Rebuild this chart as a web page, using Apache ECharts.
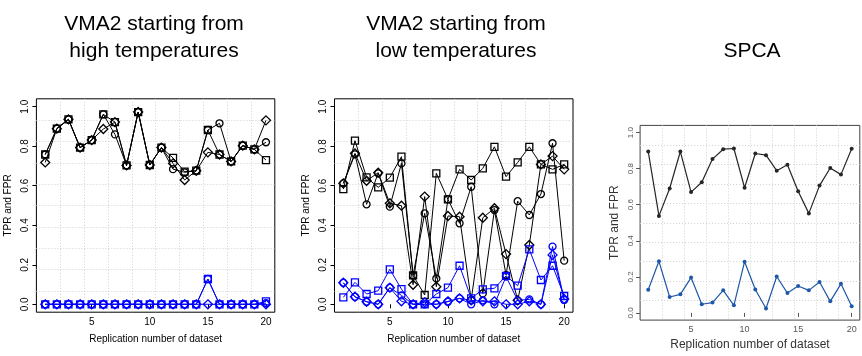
<!DOCTYPE html>
<html>
<head>
<meta charset="utf-8">
<script src="https://cdn.jsdelivr.net/npm/echarts@6/dist/echarts.min.js"></script>
<style>
  html, body { margin: 0; padding: 0; background: #fff; }
  #chart { width: 862px; height: 356px; }
</style>
</head>
<body>
<div id="chart"></div>
<script>
// replication index shared by all panels
const reps = [1, 2, 3, 4, 5, 6, 7, 8, 9, 10, 11, 12, 13, 14, 15, 16, 17, 18, 19, 20]
const xTicks = [5, 10, 15, 20]
const yTicks = [0, 0.2, 0.4, 0.6, 0.8, 1.0]

// VMA2 from high temperatures: TPR (black) and FPR (blue), one run per marker
const highTprSquare = [0.758, 0.889, 0.936, 0.793, 0.831, 0.961, 0.922, 0.703, 0.973, 0.705, 0.793, 0.741, 0.671, 0.676, 0.882, 0.758, 0.723, 0.803, 0.784, 0.730]
const highTprCircle = [0.758, 0.889, 0.936, 0.793, 0.831, 0.961, 0.860, 0.703, 0.973, 0.705, 0.793, 0.684, 0.668, 0.676, 0.882, 0.916, 0.723, 0.803, 0.784, 0.820]
const highTprDiamond = [0.718, 0.889, 0.936, 0.793, 0.831, 0.887, 0.922, 0.703, 0.973, 0.705, 0.793, 0.713, 0.629, 0.676, 0.769, 0.758, 0.723, 0.803, 0.784, 0.931]
const highFprSquare = [0, 0, 0, 0, 0, 0, 0, 0, 0, 0, 0, 0, 0, 0, 0.128, 0, 0, 0, 0, 0.015]
const highFprCircle = [0, 0, 0, 0, 0, 0, 0, 0, 0, 0, 0, 0, 0, 0, 0.128, 0, 0, 0, 0, 0.006]
const highFprDiamond = [0, 0, 0, 0, 0, 0, 0, 0, 0, 0, 0, 0, 0, 0, 0, 0, 0, 0, 0, 0]

// VMA2 from low temperatures
const lowTprSquare = [0.583, 0.828, 0.642, 0.592, 0.641, 0.747, 0.146, 0.047, 0.663, 0.531, 0.683, 0.629, 0.688, 0.797, 0.646, 0.718, 0.797, 0.708, 0.683, 0.708]
const lowTprCircle = [0.612, 0.759, 0.506, 0.663, 0.494, 0.713, 0.146, 0.460, 0.131, 0.531, 0.410, 0.595, 0.055, 0.477, 0.148, 0.522, 0.452, 0.558, 0.815, 0.221]
const lowTprDiamond = [0.612, 0.764, 0.625, 0.666, 0.511, 0.499, 0.099, 0.545, 0.089, 0.447, 0.443, 0.022, 0.438, 0.486, 0.254, 0.020, 0.300, 0.708, 0.750, 0.683]
const lowFprSquare = [0.035, 0.111, 0.052, 0.069, 0.177, 0.077, 0.0, 0.0, 0.052, 0.084, 0.195, 0.030, 0.076, 0.081, 0.144, 0.094, 0.278, 0.123, 0.195, 0.042]
const lowFprCircle = [0.109, 0.038, 0.013, 0.0, 0.084, 0.045, 0.0, 0.0, 0.0, 0.013, 0.030, 0.0, 0.020, 0.0, 0.140, 0.020, 0.025, 0.0, 0.292, 0.022]
const lowFprDiamond = [0.109, 0.038, 0.013, 0.0, 0.084, 0.015, 0.0, 0.010, 0.0, 0.015, 0.030, 0.020, 0.015, 0.015, 0.0, 0.0, 0.015, 0.0, 0.250, 0.027]

// SPCA
const spcaTpr = [0.895, 0.538, 0.690, 0.895, 0.670, 0.725, 0.853, 0.908, 0.912, 0.694, 0.884, 0.875, 0.789, 0.822, 0.675, 0.552, 0.706, 0.804, 0.767, 0.910]
const spcaFpr = [0.128, 0.286, 0.088, 0.103, 0.196, 0.048, 0.057, 0.125, 0.042, 0.284, 0.130, 0.024, 0.202, 0.110, 0.149, 0.125, 0.171, 0.064, 0.161, 0.037]

const FONT = 'Liberation Sans, Arial, sans-serif'

const chart = echarts.init(document.getElementById('chart'))

const pairs = arr => reps.map((r, i) => [r, arr[i]])

const grids = [
  { left: 36.4, top: 98.8, width: 238.4, height: 213.4, border: '#000' },
  { left: 334.5, top: 98.8, width: 238.5, height: 213.4, border: '#000' },
  { left: 640.1, top: 125.4, width: 219.7, height: 196.2, border: '#444' },
]

function mainAxes(i, opt) {
  const x = {
    type: 'value', gridIndex: i, min: 0.24, max: 20.76,
    name: 'Replication number of dataset', nameLocation: 'middle', nameGap: opt.xNameGap,
    nameTextStyle: { fontFamily: FONT, fontSize: opt.nameSize, color: opt.nameColor },
    axisLine: { show: false },
    axisTick: { show: true, length: 4, customValues: xTicks, lineStyle: { color: opt.tickColor } },
    axisLabel: { customValues: xTicks, margin: opt.xMargin, fontFamily: FONT, fontSize: opt.xLabelSize, color: opt.labelColor },
    splitLine: { show: false },
  }
  const y = {
    type: 'value', gridIndex: i, min: -0.04, max: 1.04,
    name: 'TPR and FPR', nameLocation: 'middle', nameRotate: 90, nameGap: opt.yNameGap,
    nameTextStyle: { fontFamily: FONT, fontSize: opt.nameSize, color: opt.nameColor },
    axisLine: { show: false },
    axisTick: { show: true, length: 4, customValues: yTicks, lineStyle: { color: opt.tickColor } },
    axisLabel: {
      customValues: yTicks, rotate: 90, margin: opt.yMargin, fontFamily: FONT,
      fontSize: opt.yLabelSize, color: opt.labelColor, formatter: v => v.toFixed(1),
    },
    splitLine: { show: false },
  }
  return { x, y }
}

// dotted background grid: 10 equal divisions each way, edges left to the box
function gridAxes(i) {
  const common = {
    type: 'value', gridIndex: i, min: 0, max: 10, interval: 1,
    axisLine: { show: false }, axisTick: { show: false }, axisLabel: { show: false },
    splitLine: {
      show: true, showMinLine: false, showMaxLine: false,
      lineStyle: { color: '#d0d0d0', type: [1, 2], width: 1 },
    },
  }
  return { x: { ...common, position: 'top' }, y: { ...common, position: 'right' } }
}

const vmaOpt = {
  xNameGap: 22, yNameGap: 23, nameSize: 10, nameColor: '#000', tickColor: '#000',
  xMargin: 5, yMargin: 6, xLabelSize: 10, yLabelSize: 10, labelColor: '#000',
}
const spcaOpt = {
  xNameGap: 18, yNameGap: 19, nameSize: 12, nameColor: '#333', tickColor: '#555',
  xMargin: 5, yMargin: 5, xLabelSize: 9, yLabelSize: 8, labelColor: '#555',
}

const xAxes = []
const yAxes = []
;[vmaOpt, vmaOpt, spcaOpt].forEach((opt, i) => {
  const m = mainAxes(i, opt)
  const g = gridAxes(i)
  xAxes.push(m.x)
  yAxes.push(m.y)
  xAxes.push(g.x)
  yAxes.push(g.y)
})

function openSeries(panel, data, symbol, color, size) {
  return {
    type: 'line', xAxisIndex: panel * 2, yAxisIndex: panel * 2,
    data: pairs(data), symbol, symbolSize: size,
    lineStyle: { color, width: 1 },
    itemStyle: { color: 'rgba(0,0,0,0)', borderColor: color, borderWidth: 1.3 },
    emphasis: { disabled: true }, animation: false,
  }
}

function filledSeries(panel, data, color) {
  return {
    type: 'line', xAxisIndex: panel * 2, yAxisIndex: panel * 2,
    data: pairs(data), symbol: 'circle', symbolSize: 4,
    lineStyle: { color, width: 1.2 },
    itemStyle: { color },
    emphasis: { disabled: true }, animation: false,
  }
}

const series = [
  openSeries(0, highTprSquare, 'rect', '#000', 7),
  openSeries(0, highTprCircle, 'circle', '#000', 7),
  openSeries(0, highTprDiamond, 'diamond', '#000', 9),
  openSeries(0, highFprSquare, 'rect', '#0000ff', 7),
  openSeries(0, highFprCircle, 'circle', '#0000ff', 7),
  openSeries(0, highFprDiamond, 'diamond', '#0000ff', 9),
  openSeries(1, lowTprSquare, 'rect', '#000', 7),
  openSeries(1, lowTprCircle, 'circle', '#000', 7),
  openSeries(1, lowTprDiamond, 'diamond', '#000', 9),
  openSeries(1, lowFprSquare, 'rect', '#0000ff', 7),
  openSeries(1, lowFprCircle, 'circle', '#0000ff', 7),
  openSeries(1, lowFprDiamond, 'diamond', '#0000ff', 9),
  filledSeries(2, spcaTpr, '#262626'),
  filledSeries(2, spcaFpr, '#1f58a6'),
]

const titleStyle = { fontFamily: FONT, fontSize: 21, fontWeight: 'normal', color: '#000', lineHeight: 27 }

const option = {
  animation: false,
  title: [
    { text: 'VMA2 starting from\nhigh temperatures', left: 154, top: 11, padding: 0, textAlign: 'center', textStyle: titleStyle },
    { text: 'VMA2 starting from\nlow temperatures', left: 456, top: 11, padding: 0, textAlign: 'center', textStyle: titleStyle },
    { text: 'SPCA', left: 752, top: 38, padding: 0, textAlign: 'center', textStyle: titleStyle },
  ],
  grid: grids.map(g => ({
    left: g.left, top: g.top, width: g.width, height: g.height,
    show: true, borderColor: g.border, borderWidth: 1, backgroundColor: 'transparent',
    containLabel: false,
  })),
  xAxis: xAxes,
  yAxis: yAxes,
  series,
}

chart.setOption(option)
</script>
</body>
</html>
